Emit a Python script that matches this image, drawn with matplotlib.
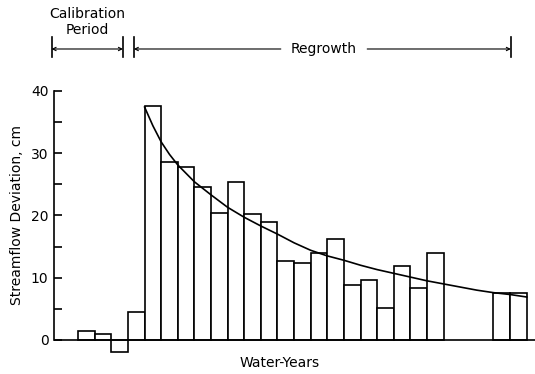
import numpy as np
import matplotlib
matplotlib.use('Agg')
import matplotlib.pyplot as plt
import matplotlib.transforms as mtransforms

# bar values per water-year (None = no bar)
years = list(range(27))
deviation = [1.5, 1.0, -2.0, 4.5, 37.5, 28.5, 27.8, 24.5, 20.4, 25.4, 20.3,
             19.0, 12.7, 12.4, 14.0, 16.2, 8.8, 9.6, 5.2, 11.8, 8.3, 14.0,
             None, None, None, 7.5, 7.6]

# fitted regrowth curve
curve_x = [3.5, 4.0, 4.5, 5.0, 5.5, 6.5, 7.5, 8.5, 9.5, 10.5, 11.5, 12.5, 13.5,
           14.5, 15.5, 16.5, 17.5, 18.5, 19.5, 20.5, 21.5, 22.5, 23.5,
           24.5, 25.5, 26.5]
curve_y = [37.4, 34.4, 31.8, 29.8, 28.1, 25.4, 23.3, 21.3, 19.7, 18.3, 17.0,
           15.6, 14.4, 13.5, 12.8, 12.0, 11.3, 10.7, 10.1, 9.5, 9.0, 8.5,
           8.0, 7.6, 7.3, 6.9]

yticks = [0, 10, 20, 30, 40]
periods = [('Calibration\nPeriod', -2.1, 2.2), ('Regrowth', 2.85, 25.55)]

lw = 1.2
fs = 10

fig = plt.figure(figsize=(5.35, 3.74), dpi=100)
ax = fig.add_axes([0.101, 0.041, 0.899, 0.716])

xs = [x for x, v in zip(years, deviation) if v is not None]
vs = [v for v in deviation if v is not None]
ax.bar(xs, vs, width=1.0, color='white', edgecolor='black', linewidth=lw, zorder=2)
ax.plot(curve_x, curve_y, color='black', linewidth=lw, zorder=3)
ax.axhline(0, color='black', linewidth=lw, zorder=4)

ax.set_xlim(-1.95, 27.0)
ax.set_ylim(-3, 40)
for s in ['top', 'right', 'bottom']:
    ax.spines[s].set_visible(False)
ax.spines['left'].set_bounds(0, 40)
ax.spines['left'].set_linewidth(lw)
ax.set_xticks([])
ax.set_yticks(yticks)
ax.set_yticks([5, 15, 25, 35], minor=True)
ax.tick_params(axis='y', which='both', direction='in', length=6, width=lw,
               pad=4, labelsize=fs)

fig.text(0.032, 0.425, 'Streamflow Deviation, cm', rotation=90,
         ha='center', va='center', fontsize=fs)
fig.text(0.523, 0.029, 'Water-Years', ha='center', va='center', fontsize=fs)

# period brackets above the plot
trans = mtransforms.blended_transform_factory(ax.transData, fig.transFigure)
yb = 0.869
for label, x0, x1 in periods:
    for xe in (x0, x1):
        ax.plot([xe, xe], [0.848, 0.901], color='black', linewidth=lw,
                transform=trans, clip_on=False)
    if label == 'Regrowth':
        xm = 14.3
        gap = 2.6
        ax.annotate('', xy=(x0, yb), xytext=(xm - gap, yb), xycoords=trans,
                    textcoords=trans,
                    arrowprops=dict(arrowstyle='->', lw=0.8, color='black',
                                    shrinkA=0, shrinkB=0, mutation_scale=6))
        ax.annotate('', xy=(x1, yb), xytext=(xm + gap, yb), xycoords=trans,
                    textcoords=trans,
                    arrowprops=dict(arrowstyle='->', lw=0.8, color='black',
                                    shrinkA=0, shrinkB=0, mutation_scale=6))
        ax.text(xm, yb, label, transform=trans, ha='center', va='center',
                fontsize=fs)
    else:
        ax.annotate('', xy=(x0, yb), xytext=(x1, yb), xycoords=trans,
                    textcoords=trans,
                    arrowprops=dict(arrowstyle='<->', lw=0.8, color='black',
                                    shrinkA=0, shrinkB=0, mutation_scale=6))
        ax.text((x0 + x1) / 2, 0.902, label, transform=trans, ha='center',
                va='bottom', fontsize=fs, linespacing=1.15)

fig.savefig('out.png', dpi=100)
